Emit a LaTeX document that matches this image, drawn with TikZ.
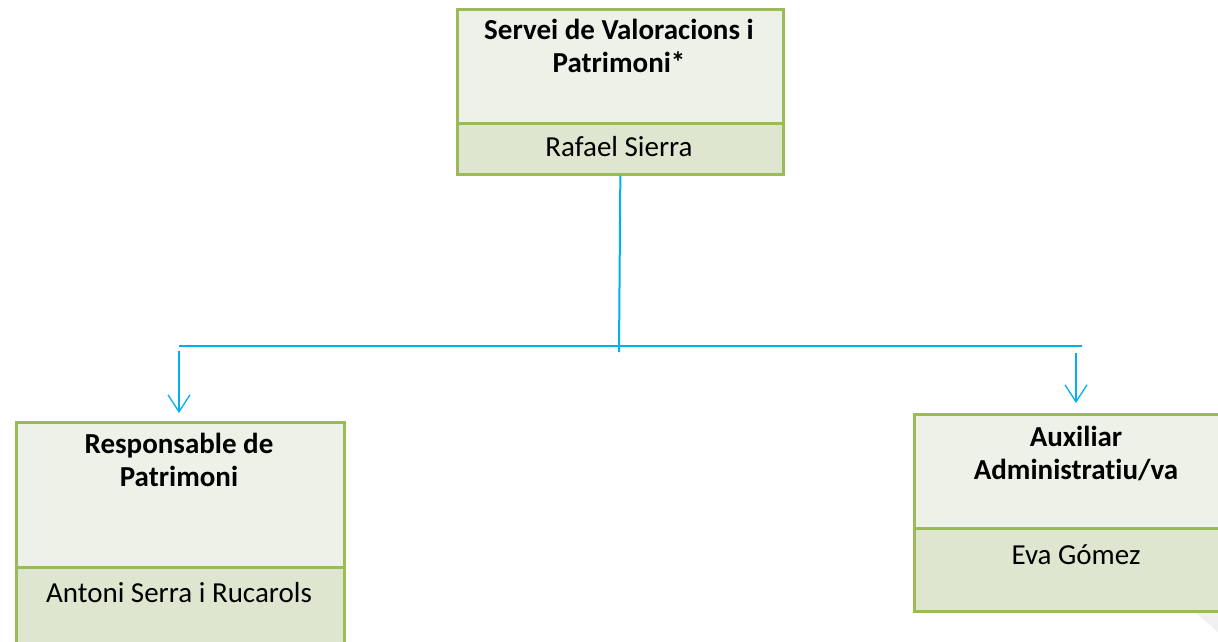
\documentclass[tikz,border=0pt]{standalone}
\usepackage{fontspec}
\setmainfont{Carlito}[Ligatures=NoCommon]
\usetikzlibrary{arrows.meta}
\definecolor{boxborder}{HTML}{9BBB59}
\definecolor{topfill}{HTML}{EEF1E7}
\definecolor{botfill}{HTML}{DEE6CF}
\definecolor{linkblue}{HTML}{00B0F0}
\tikzset{
  x=1pt, y=-1pt,
  upperbox/.style={draw=boxborder, line width=2.7pt, fill=topfill, rectangle, inner sep=0pt},
  lowerbox/.style={draw=boxborder, line width=2.7pt, fill=botfill, rectangle, inner sep=0pt},
  titletext/.style={font=\fontsize{29}{33}\selectfont\bfseries, align=center, anchor=base, inner sep=0pt},
  nametext/.style={font=\fontsize{29}{33}\selectfont, anchor=base, inner sep=0pt},
  trunk/.style={draw=linkblue, line width=2pt},
  branch/.style={draw=linkblue, line width=1.3pt, -{Straight Barb[length=17pt,width=22pt,line width=1.3pt]}},
}
\begin{document}
\begin{tikzpicture}
\useasboundingbox (0,0) rectangle (1218,641);
\clip (0,0) rectangle (1218,641);
\fill[white] (0,0) rectangle (1218,641);
% faint page shadow
\fill[black!6] (1195,612) -- (1218,612) -- (1218,632) -- cycle;

% top box
\node[upperbox, minimum width=326pt, minimum height=114pt, anchor=north west] (topU) at (456,8) {};
\node[lowerbox, minimum width=326pt, minimum height=51pt, anchor=north west] (topL) at (456,122) {};
\node[titletext] (topT) at (619,72) {Servei de Valoracions i\\Patrimoni*};
\node[nametext] (topN) at (619,156) {Rafael Sierra};

% left box
\node[upperbox, minimum width=328pt, minimum height=145pt, anchor=north west] (leftU) at (15,421) {};
\node[lowerbox, minimum width=328pt, minimum height=110pt, anchor=north west] (leftL) at (15,566) {};
\node[titletext] (leftT) at (179,486) {Responsable de\\Patrimoni};
\node[nametext] (leftN) at (179,602) {Antoni Serra i Rucarols};

% right box
\node[upperbox, minimum width=326pt, minimum height=114pt, anchor=north west] (rightU) at (913,413) {};
\node[lowerbox, minimum width=326pt, minimum height=83pt, anchor=north west] (rightL) at (913,527) {};
\node[titletext] (rightT) at (1076,479) {Auxiliar\\Administratiu/va};
\node[nametext] (rightN) at (1076,564) {Eva Gómez};

% connectors
\coordinate (trunkEnd) at (619,352);
\coordinate (barL) at (179,346);
\coordinate (barR) at (1082,346);
\coordinate (startL) at (179,351);
\coordinate (startR) at (1076,353);
\path[trunk] (topL.south) -- (trunkEnd);
\path[trunk] (barL) -- (barR);
\path[branch, shorten >=8pt] (startL) -- (leftU.north -| startL);
\path[branch, shorten >=10pt] (startR) -- (rightU.north -| startR);
\end{tikzpicture}
\end{document}
